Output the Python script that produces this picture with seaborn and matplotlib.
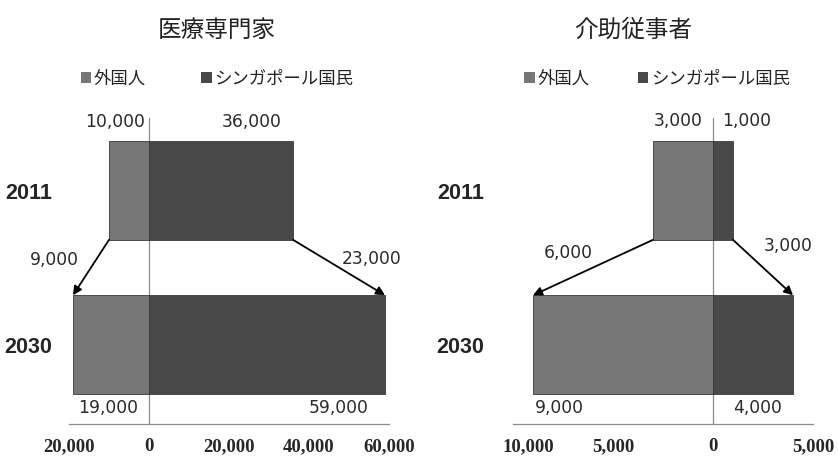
import matplotlib
matplotlib.use("Agg")
import matplotlib.pyplot as plt
from matplotlib.patches import Patch
from matplotlib.ticker import FuncFormatter, FixedLocator
from matplotlib.transforms import ScaledTranslation
import seaborn as sns
import pandas as pd

sns.set_theme(style="white")
plt.rcParams["font.family"] = ["Noto Sans CJK JP", "DejaVu Sans"]

years = ["2011", "2030"]
groups = ["外国人", "シンガポール国民"]

medical_title = "医療専門家"
medical_foreign = [10000, 19000]
medical_local = [36000, 59000]
medical_ticks = [-20000, 0, 20000, 40000, 60000]

care_title = "介助従事者"
care_foreign = [3000, 9000]
care_local = [1000, 4000]
care_ticks = [-10000, -5000, 0, 5000]

foreign_color = "#777777"
local_color = "#484848"
axis_gray = "#8c8c8c"
BAR_H = 0.64

W, H = 838, 457
fig = plt.figure(figsize=(W / 100, H / 100), dpi=100)


def px_box(left, right, top, bottom):
    return [left / W, 1 - bottom / H, (right - left) / W, (bottom - top) / H]


def fmt(v):
    return f"{abs(int(v)):,}"


def draw_panel(ax, foreign, local, ticks, tick_pad_cat, label_layout, delta_layout):
    df = pd.DataFrame({
        "year": years * 2,
        "group": [groups[0]] * 2 + [groups[1]] * 2,
        "value": [-v for v in foreign] + list(local),
    })
    sns.barplot(data=df, x="value", y="year", hue="group", dodge=False,
                palette=[foreign_color, local_color], orient="h",
                width=BAR_H, ax=ax, legend=False, saturation=1,
                edgecolor="#3a3a3a", linewidth=0.6)

    ax.set_xlim(ticks[0], ticks[-1])
    ax.set_ylim(1.516, -0.471)
    ax.xaxis.set_major_locator(FixedLocator(ticks))
    ax.xaxis.set_major_formatter(FuncFormatter(lambda v, p: fmt(v)))
    ax.set_xlabel("")
    ax.set_ylabel("")
    for s in ["top", "right", "left"]:
        ax.spines[s].set_visible(False)
    ax.spines["bottom"].set_color(axis_gray)
    ax.spines["bottom"].set_linewidth(0.9)
    ax.axvline(0, color=axis_gray, lw=0.9, zorder=0.5)
    ax.tick_params(axis="x", direction="in", length=4, color=axis_gray, pad=10,
                   labelsize=13.5)
    ax.tick_params(axis="y", length=0, pad=tick_pad_cat, labelsize=15.5)
    for t in ax.get_xticklabels():
        t.set_fontfamily("Liberation Serif")
        t.set_fontweight("bold")
    for t in ax.get_yticklabels():
        t.set_fontfamily("Liberation Sans")
        t.set_fontweight("bold")

    # value labels: anchored either at the zero line or at the bar end
    bars = {("f", 0): (-foreign[0], 0, foreign[0]),
            ("l", 0): (local[0], 0, local[0]),
            ("f", 1): (-foreign[1], 1, foreign[1]),
            ("l", 1): (local[1], 1, local[1])}
    for key, (anchor, dx, dy, ha) in label_layout.items():
        end, row, val = bars[key]
        x = 0 if anchor == "zero" else end
        y = row - BAR_H / 2 if row == 0 else row + BAR_H / 2
        ax.annotate(fmt(val), xy=(x, y), xytext=(dx, dy),
                    textcoords="offset pixels", ha=ha, va="center",
                    fontsize=12.3, color="#2a2a2a", family="DejaVu Sans",
                    annotation_clip=False)

    # growth arrows from 2011 bar corners to 2030 bar corners
    y0, y1 = 0 + BAR_H / 2, 1 - BAR_H / 2
    arrows = [(-foreign[0], -foreign[1], foreign[1] - foreign[0]),
              (local[0], local[1], local[1] - local[0])]
    for (xa, xb, d), (ox, oy) in zip(arrows, delta_layout):
        ax.annotate("", xy=(xb, y1), xytext=(xa, y0),
                    arrowprops=dict(arrowstyle="-|>", color="black", lw=1.3,
                                    mutation_scale=13, shrinkA=0, shrinkB=0),
                    annotation_clip=False)
        ax.annotate(fmt(d), xy=((xa + xb) / 2, (y0 + y1) / 2), xytext=(ox, oy),
                    textcoords="offset pixels", ha="center", va="center",
                    fontsize=12.3, color="#2a2a2a", family="DejaVu Sans",
                    annotation_clip=False)

    return [Patch(facecolor=foreign_color, edgecolor="none"),
            Patch(facecolor=local_color, edgecolor="none")]


ax1 = fig.add_axes(px_box(69, 389, 118, 424))
h1 = draw_panel(ax1, medical_foreign, medical_local, medical_ticks, 12,
                {("f", 0): ("zero", -4, 19, "right"),
                 ("l", 0): ("end", -11, 19, "right"),
                 ("f", 1): ("zero", -11, -14, "right"),
                 ("l", 1): ("end", -17, -14, "right")},
                [(-37, 8), (33, 9)])

ax2 = fig.add_axes(px_box(513, 813, 118, 424))
h2 = draw_panel(ax2, care_foreign, care_local, care_ticks, 21,
                {("f", 0): ("zero", -10, 20, "right"),
                 ("l", 0): ("zero", 9, 20, "left"),
                 ("f", 1): ("end", 2, -14, "left"),
                 ("l", 1): ("end", -11, -14, "right")},
                [(-25, 15), (25, 22)])
# the outermost left label sits a little inward
first = ax2.get_xticklabels()[0]
first.set_transform(first.get_transform() + ScaledTranslation(0.15, 0, fig.dpi_scale_trans))

for title, cx in [(medical_title, 217), (care_title, 633)]:
    fig.text(cx / W, 1 - 30 / H, title, ha="center", va="center",
             fontsize=17, color="#222222")

for handles, cx, cs in [(h1, 217, 3.2), (h2, 657, 2.8)]:
    fig.legend(handles, groups, loc="center", bbox_to_anchor=(cx / W, 1 - 79 / H),
               ncol=2, frameon=False, fontsize=12.5, handlelength=0.6,
               handleheight=0.6, handletextpad=0.15, columnspacing=cs,
               labelcolor="#222222")

fig.savefig("out.png", dpi=100, facecolor="white")
